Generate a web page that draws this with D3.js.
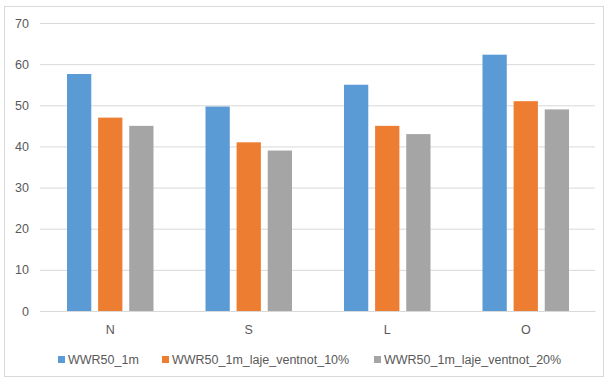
<!DOCTYPE html>
<html>
<head>
<meta charset="utf-8">
<script src="https://cdn.jsdelivr.net/npm/d3@7"></script>
<style>
  html, body { margin: 0; padding: 0; background: #fff; }
  svg { display: block; }
  text { font-family: "Liberation Sans", Arial, sans-serif; fill: #595959; }
</style>
</head>
<body>
<svg id="chart" width="606" height="378"></svg>
<script>
// Orientations (categories) and the three simulated cases
const categories = ["N", "S", "L", "O"];
const seriesNames = ["WWR50_1m", "WWR50_1m_laje_ventnot_10%", "WWR50_1m_laje_ventnot_20%"];
const wwr50_1m = [57.6, 49.7, 55.0, 62.3];
const ventnot10 = [47.0, 41.0, 45.0, 51.0];
const ventnot20 = [45.0, 39.0, 43.0, 49.0];
const yTicks = [0, 10, 20, 30, 40, 50, 60, 70];
const colors = ["#5B9BD5", "#ED7D31", "#A5A5A5"];

const seriesValues = [wwr50_1m, ventnot10, ventnot20];

const svg = d3.select("#chart");

// Outer chart frame
svg.append("rect")
  .attr("x", 4.5).attr("y", 6.5)
  .attr("width", 599).attr("height", 370)
  .attr("fill", "#fff")
  .attr("stroke", "#d9d9d9").attr("stroke-width", 1);

const plot = { left: 41, right: 595, top: 23, bottom: 311 };

const y = d3.scaleLinear().domain([0, 70]).range([plot.bottom, plot.top]);
const x0 = d3.scaleBand().domain(categories).range([plot.left, plot.right]).paddingInner(0).paddingOuter(0);
const x1 = d3.scaleBand().domain(d3.range(seriesNames.length))
  .range([26, x0.bandwidth() - 26]).paddingInner(0.22).paddingOuter(0);

// Horizontal gridlines and tick labels
const yAxis = d3.axisLeft(y).tickValues(yTicks).tickSize(-(plot.right - plot.left + 1)).tickPadding(11);
const gy = svg.append("g").attr("transform", `translate(${plot.left - 1},0)`).call(yAxis);
gy.select(".domain").remove();
gy.selectAll(".tick line").attr("stroke", "#d9d9d9").attr("stroke-width", 1);
gy.selectAll(".tick text")
  .attr("font-size", "12.5px")
  .attr("fill", "#595959")
  .style("font-family", '"Liberation Sans", Arial, sans-serif');

// Bars
const groups = svg.append("g").selectAll("g")
  .data(categories)
  .join("g")
  .attr("transform", d => `translate(${x0(d)},0)`);

groups.selectAll("rect")
  .data((d, i) => seriesValues.map((vals, s) => ({ s, v: vals[i] })))
  .join("rect")
  .attr("x", d => x1(d.s))
  .attr("width", x1.bandwidth())
  .attr("y", d => y(d.v))
  .attr("height", d => y(0) - y(d.v))
  .attr("fill", d => colors[d.s]);

// Category axis
const xAxis = d3.axisBottom(x0).tickSize(0).tickPadding(14);
const gx = svg.append("g").attr("transform", `translate(0,${plot.bottom})`).call(xAxis);
gx.select(".domain").attr("stroke", "#d9d9d9");
gx.selectAll(".tick text")
  .attr("font-size", "12.5px")
  .attr("fill", "#595959")
  .style("font-family", '"Liberation Sans", Arial, sans-serif');

// Legend
const legendX = [58, 162, 374];
const legend = svg.append("g").selectAll("g")
  .data(seriesNames)
  .join("g")
  .attr("transform", (d, i) => `translate(${legendX[i]},356)`);
legend.append("rect")
  .attr("width", 7).attr("height", 7)
  .attr("fill", (d, i) => colors[i]);
legend.append("text")
  .attr("x", 10).attr("y", 8)
  .attr("font-size", "12.5px")
  .text(d => d);
</script>
</body>
</html>
